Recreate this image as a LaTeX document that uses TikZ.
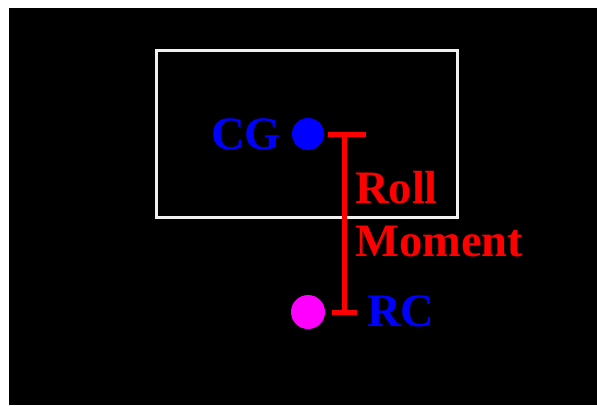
\documentclass[tikz,border=0pt]{standalone}
\usepackage{fontspec}
\setmainfont{Liberation Serif}
\definecolor{rcmag}{RGB}{255,0,255}
\definecolor{cgblue}{RGB}{0,0,255}
\definecolor{rmred}{RGB}{255,0,0}
\begin{document}
\begin{tikzpicture}[x=1pt,y=-1pt,
  lbl/.style={inner sep=0pt,font=\fontsize{46.5}{53}\selectfont\bfseries},
  dot/.style={circle,inner sep=0pt,draw=none},
  bar/.style={rmred,line width=5pt}]
\useasboundingbox (0,0) rectangle (597,405);
\fill[white] (0,0) rectangle (597,405);
\fill[black] (9,8) rectangle (597,405);
\draw[white!88!gray,line width=3pt] (156,50) rectangle (457,217);
\node[dot,fill=cgblue,minimum size=32pt] (cg) at (308,134) {};
\node[dot,fill=rcmag,minimum size=34pt] (rc) at (308,312) {};
\coordinate (t1) at (328,134);
\coordinate (t2) at (366,134);
\coordinate (tm) at (344,134);
\coordinate (bm) at (344,312);
\coordinate (b1) at (332,312);
\coordinate (b2) at (357,312);
\draw[bar] (t1) -- (t2);
\draw[bar] (b1) -- (b2);
\draw[bar] (tm) -- (bm);
\node[lbl,cgblue,anchor=base east] (cgl) at (281,149) {CG};
\node[lbl,rmred,anchor=base west] (roll) at (355,203) {Roll};
\node[lbl,rmred,anchor=base west] (mom) at (355,256) {Moment};
\node[lbl,cgblue,anchor=base west] (rcl) at (367,326) {RC};
\end{tikzpicture}
\end{document}
